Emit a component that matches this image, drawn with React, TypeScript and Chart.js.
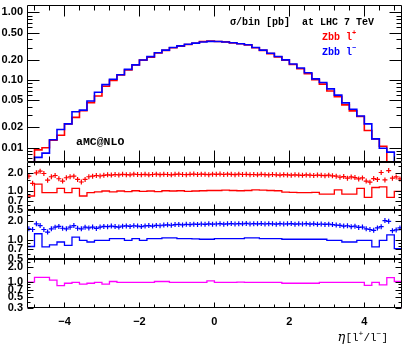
import React, { useEffect, useRef } from "react";
import { Chart, registerables } from "chart.js";
Chart.register(...registerables);

const ETA_MIN = -5;
const ETA_MAX = 5;
const MAIN_BIN = 0.2;
const CROSS_BIN = 0.1;

// main panel: sigma/bin [pb]
const mainRed = [0.004, 0.0093, 0.0100, 0.0129, 0.0153, 0.0225, 0.0281, 0.0352, 0.0464, 0.058,
  0.081, 0.099, 0.119, 0.141, 0.167, 0.197, 0.218, 0.252, 0.275, 0.301,
  0.318, 0.336, 0.351, 0.372, 0.378, 0.371, 0.367, 0.355, 0.344, 0.332,
  0.301, 0.275, 0.246, 0.220, 0.197, 0.170, 0.147, 0.124, 0.101, 0.087,
  0.069, 0.057, 0.043, 0.035, 0.029, 0.018, 0.0135, 0.0105, 0.004, 0.004];
const mainBlue = [0.004, 0.0072, 0.0083, 0.0131, 0.0186, 0.0225, 0.034, 0.036, 0.049, 0.066,
  0.0855, 0.103, 0.120, 0.144, 0.168, 0.198, 0.222, 0.254, 0.277, 0.303,
  0.320, 0.338, 0.352, 0.366, 0.374, 0.372, 0.366, 0.356, 0.345, 0.333,
  0.303, 0.277, 0.249, 0.223, 0.199, 0.173, 0.151, 0.128, 0.104, 0.092,
  0.074, 0.060, 0.046, 0.037, 0.0295, 0.0225, 0.0135, 0.0098, 0.0086, 0.004];

// ratio histograms
const ratioRed = [0.84, 1.30, 0.95, 0.95, 1.11, 0.95, 1.11, 0.84, 0.95, 0.98,
  1.01, 0.98, 1.01, 0.99, 1.02, 1.00, 1.01, 0.99, 1.02, 1.01,
  1.02, 1.00, 1.01, 1.02, 1.03, 1.03, 1.04, 1.03, 1.02, 1.03,
  1.05, 1.04, 1.03, 1.02, 0.97, 0.96, 0.95, 0.95, 0.96, 0.90,
  0.90, 1.05, 0.90, 0.90, 1.11, 0.80, 1.15, 1.18, 0.80, 1.00];
const ratioBlue = [0.78, 1.25, 0.77, 0.83, 0.92, 0.81, 1.10, 0.98, 0.92, 0.98,
  0.98, 1.04, 1.04, 0.98, 1.04, 0.98, 1.04, 1.04, 1.07, 1.07,
  1.04, 1.04, 1.03, 1.02, 1.02, 1.04, 1.04, 1.04, 1.04, 1.07,
  1.07, 1.04, 1.04, 1.04, 1.02, 1.02, 1.02, 1.02, 1.02, 1.02,
  0.98, 0.98, 0.92, 0.92, 0.98, 0.98, 0.77, 0.98, 1.20, 0.72];
const ratioMagenta = [1.00, 1.25, 1.25, 1.10, 0.85, 0.95, 0.99, 0.91, 0.95, 0.99,
  0.91, 1.03, 0.99, 0.99, 0.99, 0.99, 0.99, 1.03, 1.03, 0.99,
  0.99, 0.99, 0.99, 0.99, 1.06, 0.99, 0.99, 0.99, 1.00, 0.99,
  0.99, 0.99, 0.99, 0.99, 0.95, 0.95, 0.95, 0.95, 0.95, 0.99,
  0.99, 0.99, 0.99, 0.99, 0.99, 0.86, 0.99, 0.88, 1.23, 1.03];

// ratio points (crosses)
const crossRed = [1.75, 1.34, 1.98, 2.10, 1.93, 1.51, 1.71, 1.79, 1.59, 1.46,
  1.65, 1.71, 1.75, 1.55, 1.41, 1.55, 1.71, 1.75, 1.79, 1.76,
  1.80, 1.84, 1.82, 1.86, 1.83, 1.87, 1.85, 1.84, 1.88, 1.86,
  1.85, 1.87, 1.84, 1.86, 1.88, 1.85, 1.87, 1.86, 1.84, 1.87,
  1.88, 1.86, 1.85, 1.87, 1.89, 1.86, 1.88, 1.87, 1.85, 1.88,
  1.87, 1.89, 1.86, 1.88, 1.87, 1.85, 1.88, 1.86, 1.87, 1.85,
  1.86, 1.84, 1.87, 1.85, 1.83, 1.86, 1.84, 1.82, 1.85, 1.83,
  1.81, 1.84, 1.82, 1.80, 1.83, 1.81, 1.79, 1.82, 1.80, 1.78,
  1.81, 1.77, 1.75, 1.68, 1.72, 1.62, 1.70, 1.66, 1.58, 1.64,
  1.46, 1.40, 1.60, 1.55, 2.00, 1.52, 2.15, 1.62, 1.70, 1.58];
const crossBlue = [1.50, 1.46, 1.80, 1.69, 1.46, 1.33, 1.50, 1.59, 1.64, 1.53,
  1.50, 1.59, 1.69, 1.53, 1.50, 1.59, 1.55, 1.60, 1.52, 1.60,
  1.64, 1.62, 1.66, 1.63, 1.60, 1.65, 1.67, 1.64, 1.68, 1.66,
  1.63, 1.67, 1.69, 1.66, 1.70, 1.68, 1.72, 1.74, 1.71, 1.75,
  1.76, 1.73, 1.77, 1.75, 1.78, 1.76, 1.79, 1.77, 1.80, 1.78,
  1.79, 1.81, 1.78, 1.80, 1.82, 1.79, 1.81, 1.80, 1.83, 1.79,
  1.81, 1.80, 1.82, 1.79, 1.81, 1.80, 1.78, 1.81, 1.79, 1.80,
  1.82, 1.78, 1.80, 1.79, 1.81, 1.78, 1.80, 1.77, 1.79, 1.76,
  1.78, 1.75, 1.72, 1.70, 1.66, 1.68, 1.62, 1.65, 1.58, 1.60,
  1.50, 1.46, 1.42, 1.55, 1.62, 2.03, 1.98, 1.40, 1.44, 1.55];

// axis ticks
const xTicks = [-4, -2, 0, 2, 4];
const mainTicks = [0.01, 0.02, 0.05, 0.1, 0.2, 0.5, 1];
const mainMinor = [0.007, 0.008, 0.009, 0.03, 0.04, 0.06, 0.07, 0.08, 0.09, 0.3, 0.4, 0.6, 0.7, 0.8, 0.9];
const ratioTicks = [0.5, 0.7, 1, 2];
const ratioMinor = [0.6, 0.8, 0.9, 1.5, 2.5];
const ratio3Ticks = [0.3, 0.5, 0.7, 1, 2];
const ratio3Minor = [0.4, 0.6, 0.8, 0.9, 1.5, 2.5];

const RED = "rgb(255,0,0)";
const BLUE = "rgb(0,0,255)";
const MAGENTA = "rgb(255,0,255)";
const MONO = '"Liberation Mono", monospace';
const SANS = '"Liberation Sans", Arial, sans-serif';
const LOW = 1e-4;

function histPoints(vals: number[], w: number) {
  const pts: { x: number; y: number }[] = [{ x: ETA_MIN, y: LOW }];
  vals.forEach((v, i) => pts.push({ x: ETA_MIN + i * w, y: v }));
  pts.push({ x: ETA_MAX, y: vals[vals.length - 1] });
  pts.push({ x: ETA_MAX, y: LOW });
  return pts;
}
function crossPoints(vals: number[], w: number) {
  return vals.map((v, i) => ({ x: ETA_MIN + (i + 0.5) * w, y: v }));
}

function yAxis(min: number, max: number, ticks: number[], digits: number, stackWeight: number, weight: number) {
  return {
    type: "logarithmic" as const,
    position: "left" as const,
    stack: "panels",
    stackWeight,
    weight,
    min,
    max,
    grid: { display: false, drawTicks: false, tickLength: 0 },
    border: { display: false },
    ticks: {
      autoSkip: false,
      padding: 4,
      color: "#000",
      font: { family: SANS, size: 11, weight: "bold" as const },
      callback: (v: any) => Number(v).toFixed(digits),
    },
    afterBuildTicks: (s: any) => {
      s.ticks = ticks.map((v) => ({ value: v }));
    },
    afterFit: (s: any) => {
      s.width = 27;
      s.paddingTop = 0;
      s.paddingBottom = 0;
    },
  };
}

type Part = { t: string; font: string; color?: string; dy?: number; w?: number };
function drawParts(ctx: CanvasRenderingContext2D, x: number, y: number, parts: Part[], align: "left" | "right") {
  let total = 0;
  parts.forEach((p) => {
    ctx.font = p.font;
    p.w = ctx.measureText(p.t).width;
    total += p.w;
  });
  let cx = align === "right" ? x - total : x;
  ctx.textBaseline = "middle";
  ctx.textAlign = "left";
  parts.forEach((p) => {
    ctx.font = p.font;
    ctx.fillStyle = p.color || "#000";
    ctx.fillText(p.t, cx, y + (p.dy || 0));
    cx += p.w || 0;
  });
}

const panels = [
  { id: "y", major: mainTicks, minor: mainMinor, yM: 12, ym: 5, xM: 11, xm: 5 },
  { id: "r1", major: ratioTicks, minor: ratioMinor, yM: 6, ym: 3, xM: 5, xm: 3 },
  { id: "r2", major: ratioTicks, minor: ratioMinor, yM: 6, ym: 3, xM: 5, xm: 3 },
  { id: "r3", major: ratio3Ticks, minor: ratio3Minor, yM: 6, ym: 3, xM: 5, xm: 3 },
];

const decoPlugin = {
  id: "deco",
  beforeDatasetDraw(chart: any, args: any) {
    const ys = chart.scales[args.meta.yAxisID];
    const a = chart.chartArea;
    const ctx = chart.ctx;
    ctx.save();
    ctx.beginPath();
    ctx.rect(a.left, ys.top, a.right - a.left + 1.5, ys.bottom - ys.top);
    ctx.clip();
  },
  afterDatasetDraw(chart: any) {
    chart.ctx.restore();
  },
  afterDraw(chart: any) {
    const ctx: CanvasRenderingContext2D = chart.ctx;
    const xs = chart.scales.x;
    const L = Math.round(xs.left) + 0.5;
    const R = Math.round(xs.right) - 0.5;
    const xMinor: number[] = [];
    for (let k = -12; k <= 12; k++) {
      const v = Math.round(k * 0.4 * 10) / 10;
      if (Math.abs(v % 2) > 1e-6) xMinor.push(v);
    }
    ctx.save();
    ctx.strokeStyle = "#000";
    ctx.lineWidth = 1;
    panels.forEach((p) => {
      const ys = chart.scales[p.id];
      const T = Math.round(ys.top) + 0.5;
      const B = Math.round(ys.bottom) - 0.5;
      ctx.beginPath();
      ctx.rect(L, T, R - L, B - T);
      const xt = (v: number, len: number) => {
        const px = Math.round(xs.getPixelForValue(v)) + 0.5;
        ctx.moveTo(px, T);
        ctx.lineTo(px, T + len);
        ctx.moveTo(px, B);
        ctx.lineTo(px, B - len);
      };
      xTicks.forEach((v) => xt(v, p.xM));
      xMinor.forEach((v) => xt(v, p.xm));
      const yt = (v: number, len: number) => {
        const py = Math.round(ys.getPixelForValue(v)) + 0.5;
        ctx.moveTo(L, py);
        ctx.lineTo(L + len, py);
        ctx.moveTo(R, py);
        ctx.lineTo(R - len, py);
      };
      p.major.forEach((v) => yt(v, p.yM));
      p.minor.forEach((v) => yt(v, p.ym));
      ctx.stroke();
    });
    ctx.restore();

    ctx.save();
    const F = `bold 10px ${MONO}`;
    const FS = `bold 7px ${MONO}`;
    drawParts(ctx, 374, 22, [{ t: "\u03c3/bin [pb]  at LHC 7 TeV", font: F }], "right");
    drawParts(ctx, 322, 37, [
      { t: "Zbb l", font: F, color: RED },
      { t: "+", font: FS, color: RED, dy: -4 },
    ], "left");
    drawParts(ctx, 322, 52, [
      { t: "Zbb l", font: F, color: BLUE },
      { t: "\u2212", font: FS, color: BLUE, dy: -4 },
    ], "left");
    drawParts(ctx, 76, 142, [{ t: "aMC@NLO", font: `bold 11.5px ${MONO}` }], "left");
    drawParts(ctx, 388, 338, [
      { t: "\u03b7", font: `italic 13px "DejaVu Serif", serif` },
      { t: "[l", font: `11px ${MONO}` },
      { t: "+", font: `8px ${MONO}`, dy: -4 },
      { t: "/l", font: `11px ${MONO}` },
      { t: "\u2212", font: `8px ${MONO}`, dy: -4 },
      { t: "]", font: `11px ${MONO}` },
    ], "right");
    ctx.restore();
  },
};

export default function App() {
  const ref = useRef<HTMLCanvasElement | null>(null);
  useEffect(() => {
    if (!ref.current) return;
    const histDs = (data: number[], color: string, yAxisID: string, width: number, order: number) => ({
      type: "line" as const,
      data: histPoints(data, MAIN_BIN),
      borderColor: color,
      borderWidth: width,
      stepped: "before" as const,
      pointRadius: 0,
      fill: false,
      yAxisID,
      order,
    });
    const crossDs = (data: number[], color: string, yAxisID: string) => ({
      type: "line" as const,
      data: crossPoints(data, CROSS_BIN),
      showLine: false,
      pointStyle: "cross" as const,
      pointRadius: 2.5,
      pointBorderWidth: 1.2,
      pointBorderColor: color,
      pointBackgroundColor: color,
      borderColor: color,
      yAxisID,
      order: 0,
    });
    const chart = new Chart(ref.current, {
      type: "line",
      data: {
        datasets: [
          histDs(mainBlue, BLUE, "y", 1.6, 0),
          histDs(mainRed, RED, "y", 1.6, 1),
          crossDs(crossRed, RED, "r1"),
          histDs(ratioRed, RED, "r1", 1.3, 1),
          crossDs(crossBlue, BLUE, "r2"),
          histDs(ratioBlue, BLUE, "r2", 1.3, 1),
          histDs(ratioMagenta, MAGENTA, "r3", 1.3, 1),
        ] as any,
      },
      options: {
        animation: false,
        responsive: false,
        devicePixelRatio: 1,
        layout: { padding: { top: 2, right: 2, left: 0, bottom: 0 } },
        plugins: { legend: { display: false }, tooltip: { enabled: false } },
        elements: { line: { tension: 0 } },
        scales: {
          x: {
            type: "linear",
            position: "bottom",
            min: ETA_MIN,
            max: ETA_MAX,
            grid: { display: false, drawTicks: false, tickLength: 0 },
            border: { display: false },
            ticks: {
              padding: 7,
              color: "#000",
              font: { family: SANS, size: 11, weight: "bold" },
              callback: (v: any) => (Number(v) < 0 ? "\u2212" + Math.abs(Number(v)) : String(v)),
            },
            afterBuildTicks: (s: any) => {
              s.ticks = xTicks.map((v) => ({ value: v }));
            },
            afterFit: (s: any) => {
              s.height = 40;
              s.paddingLeft = 0;
              s.paddingRight = 0;
            },
          },
          y: yAxis(0.00624, 1.28, mainTicks, 2, 158, 4),
          r1: yAxis(0.5, 3, ratioTicks, 1, 49, 3),
          r2: yAxis(0.5, 3, ratioTicks, 1, 49, 2),
          r3: yAxis(0.3, 3, ratio3Ticks, 1, 50, 1),
        } as any,
      },
      plugins: [decoPlugin],
    });
    return () => chart.destroy();
  }, []);
  return (
    <div style={{ position: "absolute", left: 0, top: 0, width: 407, height: 348, background: "#fff" }}>
      <canvas ref={ref} width={407} height={348} style={{ display: "block" }} />
    </div>
  );
}
